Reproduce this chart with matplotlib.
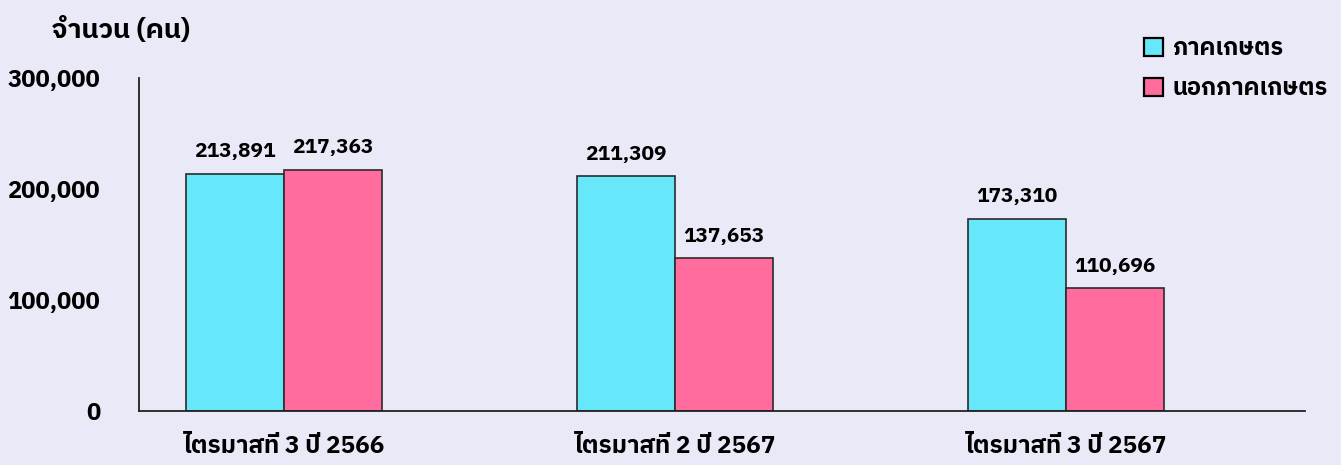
import numpy as np
import matplotlib
matplotlib.use("Agg")
import matplotlib.pyplot as plt
from matplotlib.patches import Patch

# ── data ───────────────────────────────────────────────
quarters = ["ไตรมาสที่ 3 ปี 2566", "ไตรมาสที่ 2 ปี 2567", "ไตรมาสที่ 3 ปี 2567"]
agri     = [213891, 211309, 173310]
non_agri = [217363, 137653, 110696]
series_names = ["ภาคเกษตร", "นอกภาคเกษตร"]
yticks = [0, 100000, 200000, 300000]

plt.rcParams["font.family"] = ["IBM Plex Sans Thai", "DejaVu Sans"]
plt.rcParams["font.weight"] = "bold"

BG = "#EAE9F7"
CYAN = "#67E7FA"
PINK = "#FF6C9D"
EDGE = "#2b2b2b"

fig = plt.figure(figsize=(13.41, 4.65), dpi=100, facecolor=BG)
ax = fig.add_axes([0.1037, 0.1161, 0.8695, 0.7162])
ax.set_facecolor("none")

x = np.arange(len(quarters))
w = 0.25
b1 = ax.bar(x - w / 2, agri, w, color=CYAN, edgecolor=EDGE, linewidth=1.2)
b2 = ax.bar(x + w / 2, non_agri, w, color=PINK, edgecolor=EDGE, linewidth=1.2)

# value labels above each bar
for bars, vals in [(b1, agri), (b2, non_agri)]:
    for r, v in zip(bars, vals):
        ax.annotate(f"{v:,}", (r.get_x() + r.get_width() / 2, v),
                    xytext=(0, 9), textcoords="offset points",
                    ha="center", va="bottom", fontsize=15, fontweight="bold")

ax.set_xlim(-0.371, 2.611)
ax.set_ylim(0, 300000)
ax.set_yticks(yticks)
ax.set_yticklabels([f"{t:,}" for t in yticks], fontsize=17, fontweight="bold")
ax.set_xticks(x)
ax.set_xticklabels(quarters, fontsize=17.5, fontweight="bold")
ax.tick_params(axis="y", length=0, pad=28)
ax.tick_params(axis="x", length=0, pad=17)
for s in ["top", "right"]:
    ax.spines[s].set_visible(False)
for s in ["left", "bottom"]:
    ax.spines[s].set_color("#222222")
    ax.spines[s].set_linewidth(1.3)

fig.text(0.039, 0.935, "จำนวน (คน)", fontsize=19.5, fontweight="bold", va="center")

handles = [Patch(facecolor=CYAN, edgecolor="black", linewidth=1.6),
           Patch(facecolor=PINK, edgecolor="black", linewidth=1.6)]
fig.legend(handles, series_names, loc="upper right", bbox_to_anchor=(0.997, 0.94),
           frameon=False, handlelength=0.8, handleheight=0.8,
           handletextpad=0.4, labelspacing=0.72, borderaxespad=0,
           prop={"weight": "bold", "size": 17})

fig.savefig("out.png", dpi=100, facecolor=BG)
